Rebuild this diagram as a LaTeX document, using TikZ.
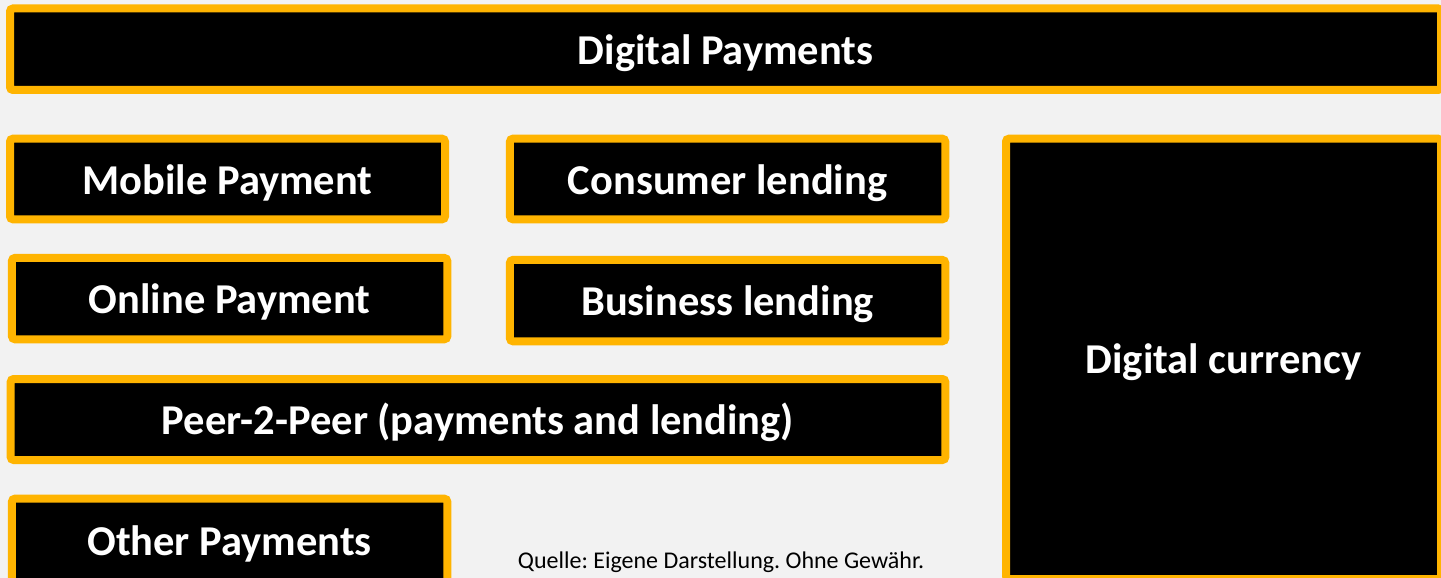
\documentclass[tikz,border=0pt]{standalone}
\usepackage{fontspec}
\setmainfont{Carlito}
\frenchspacing
\definecolor{bgc}{HTML}{F2F2F2}
\definecolor{frame}{HTML}{FFB400}
\tikzset{
  box/.style={draw=frame, fill=black, line width=8pt, rounded corners=3pt,
    inner sep=0pt, text=white, text height=30pt, text depth=0pt,
    font=\fontsize{42.5}{48}\selectfont\bfseries},
  note/.style={inner sep=0pt, text=black, font=\fontsize{24}{28}\selectfont}
}
\begin{document}
\begin{tikzpicture}[x=1pt, y=-1pt]
  \fill[bgc] (0,0) rectangle (1441,578);
  \useasboundingbox (0,0) rectangle (1441,578);
  \begin{scope}
  \clip (0,0) rectangle (1441,578);
  % top banner
  \node[box, minimum width=1431pt, minimum height=81.5pt] (dp) at (725.5,49.25) {Digital Payments};
  % left column
  \node[box, minimum width=435pt, minimum height=80.6pt] (mob) at (227.5,179) {Mobile Payment};
  \node[box, minimum width=435.3pt, minimum height=81.3pt] (onl) at (229.6,298.6) {Online Payment};
  \node[box, minimum width=934.6pt, minimum height=81pt] (p2p) at (478,419.5) {Peer-2-Peer (payments and lending)};
  \node[box, minimum width=435.3pt, minimum height=84pt] (oth) at (229.6,540.7) {Other Payments};
  % middle column
  \node[box, minimum width=435.3pt, minimum height=80.6pt] (con) at (727.6,179) {Consumer lending};
  \node[box, minimum width=435.3pt, minimum height=81.3pt] (bus) at (727.6,300.6) {Business lending};
  % right column
  \node[box, minimum width=435pt, minimum height=440.3pt] (cur) at (1223.5,358.85) {Digital currency};
  \end{scope}
  % source note
  \node[note, anchor=base] (src) at (721,568) {Quelle: Eigene Darstellung. Ohne Gewähr.};
\end{tikzpicture}
\end{document}
